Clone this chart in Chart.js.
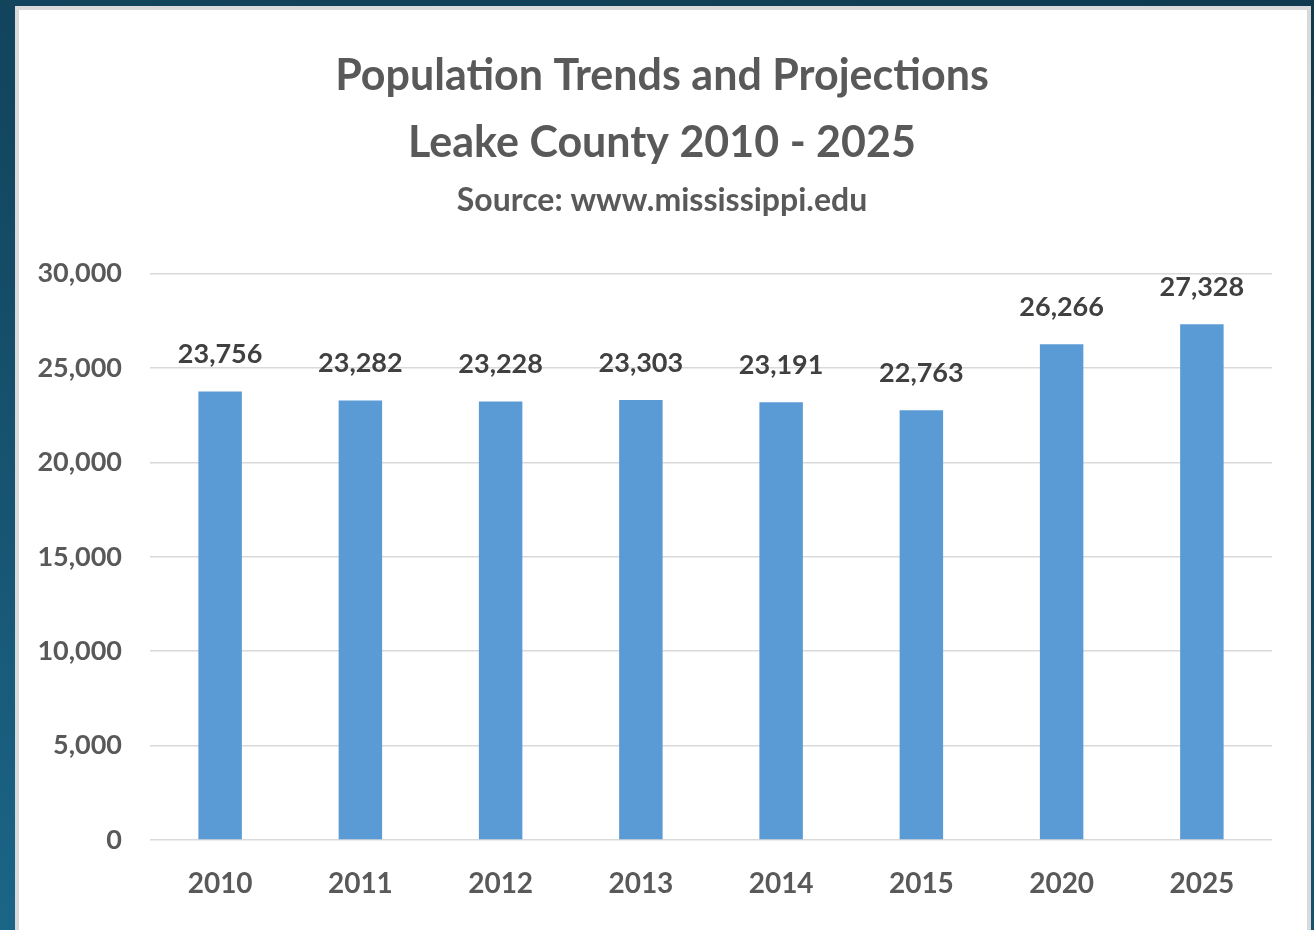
<!DOCTYPE html>
<html>
<head>
<meta charset="utf-8">
<script src="https://cdn.jsdelivr.net/npm/chart.js@4.4.1/dist/chart.umd.min.js"></script>
<style>
  html, body { margin: 0; padding: 0; }
  body {
    width: 1314px; height: 930px; overflow: hidden; position: relative;
    background: linear-gradient(200deg, #0f3a50 0%, #134861 45%, #1b6587 100%);
  }
  #panel {
    position: absolute; left: 15px; top: 6px; width: 1296px; height: 940px;
    box-sizing: border-box; background: #ffffff;
    border: 4px solid #dadada;
  }
  #wrap { position: absolute; left: 0; top: 0; width: 1314px; height: 930px; }
</style>
</head>
<body>
<div id="panel"></div>
<div id="wrap"><canvas id="chart" width="1314" height="930"></canvas></div>
<script>
// Leake County population estimates and projections
const years = ['2010', '2011', '2012', '2013', '2014', '2015', '2020', '2025'];
const population = [23756, 23282, 23228, 23303, 23191, 22763, 26266, 27328];
const yTicks = [0, 5000, 10000, 15000, 20000, 25000, 30000];

const titleLines = ['Population Trends and Projections', 'Leake County 2010 - 2025'];
const subtitleText = 'Source: www.mississippi.edu';

const FONT = 'Lato, "Open Sans", "DejaVu Sans", sans-serif';
const fmt = v => v.toLocaleString('en-US');

// Centre the title and subtitle on the white panel rather than the canvas
const PANEL_CENTRE = 662;
const centreHeadings = {
  id: 'centreHeadings',
  afterLayout(chart) {
    chart.boxes.forEach(box => {
      if (box.position === 'top' && box.fullSize) {
        const shift = PANEL_CENTRE - (box.left + box.right) / 2;
        box.left += shift;
        box.right += shift;
      }
    });
  }
};

// Draws each bar's value centred above the bar
const valueLabels = {
  id: 'valueLabels',
  afterDatasetsDraw(chart) {
    const ctx = chart.ctx;
    const meta = chart.getDatasetMeta(0);
    ctx.save();
    ctx.font = 'bold 27px ' + FONT;
    ctx.fillStyle = '#404040';
    ctx.textAlign = 'center';
    ctx.textBaseline = 'middle';
    meta.data.forEach((bar, i) => {
      ctx.fillText(fmt(population[i]), bar.x, bar.y - 37);
    });
    ctx.restore();
  }
};

new Chart(document.getElementById('chart'), {
  type: 'bar',
  data: {
    labels: years,
    datasets: [{
      data: population,
      backgroundColor: '#5b9bd5',
      borderWidth: 0,
      barPercentage: 0.31,
      categoryPercentage: 1.0
    }]
  },
  options: {
    responsive: false,
    animation: false,
    layout: { padding: { left: 0, right: 42, top: 0, bottom: 0 } },
    plugins: {
      legend: { display: false },
      tooltip: { enabled: false },
      title: {
        display: true,
        text: titleLines,
        color: '#595959',
        font: { family: FONT, size: 43, weight: 'bold', lineHeight: 1.55 },
        padding: { top: 43, bottom: 5 }
      },
      subtitle: {
        display: true,
        text: subtitleText,
        color: '#595959',
        font: { family: FONT, size: 32, weight: 'bold', lineHeight: 1.2 },
        padding: { top: 0, bottom: 54 }
      }
    },
    scales: {
      x: {
        grid: { display: false, drawTicks: false },
        border: { display: false },
        ticks: {
          color: '#595959',
          font: { family: FONT, size: 28, weight: 'bold' },
          padding: 27,
          maxRotation: 0
        },
        afterFit(scale) { scale.height = 90; }
      },
      y: {
        min: 0,
        max: 30000,
        afterBuildTicks(scale) { scale.ticks = yTicks.map(v => ({ value: v })); },
        grid: { color: '#d9d9d9', lineWidth: 1.5, drawTicks: false },
        border: { display: false },
        ticks: {
          color: '#595959',
          font: { family: FONT, size: 27, weight: 'bold' },
          padding: 28,
          callback: v => fmt(v)
        },
        afterFit(scale) { scale.width = 150; }
      }
    }
  },
  plugins: [centreHeadings, valueLabels]
});
</script>
</body>
</html>
